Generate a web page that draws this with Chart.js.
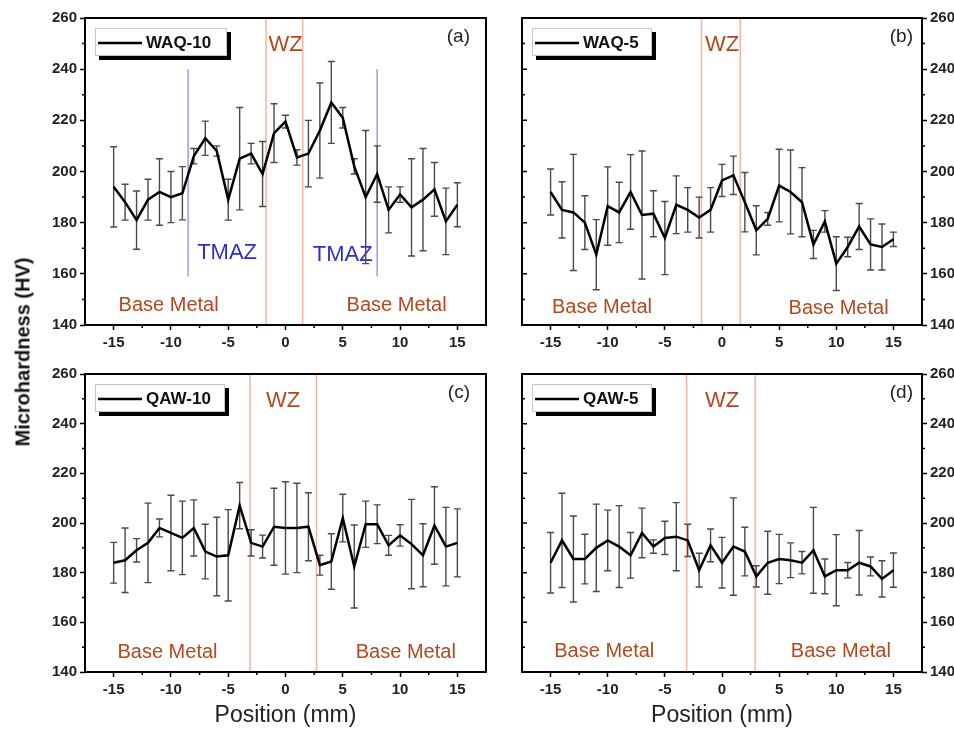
<!DOCTYPE html>
<html>
<head>
<meta charset="utf-8">
<script src="https://cdn.jsdelivr.net/npm/chart.js@4.4.1/dist/chart.umd.min.js"></script>
<style>
body{margin:0;background:#fff;width:954px;height:729px;overflow:hidden;position:relative;font-family:'Liberation Sans',Arial,sans-serif}
canvas{position:absolute}
#ytitle{position:absolute;left:23px;top:352px;transform:translate(-50%,-50%) rotate(-90deg);font-weight:bold;font-size:20px;white-space:nowrap;color:#111}
</style>
</head>
<body>
<canvas id="pa" width="500" height="362" style="left:0;top:0"></canvas>
<canvas id="pb" width="454" height="362" style="left:500px;top:0"></canvas>
<canvas id="pc" width="500" height="367" style="left:0;top:362px"></canvas>
<canvas id="pd" width="454" height="367" style="left:500px;top:362px"></canvas>
<div id="ytitle">Microhardness (HV)</div>
<script>
// positions (mm) shared by all four profiles
const positions = [-15,-14,-13,-12,-11,-10,-9,-8,-7,-6,-5,-4,-3,-2,-1,0,1,2,3,4,5,6,7,8,9,10,11,12,13,14,15];
const xTicks = [-15,-10,-5,0,5,10,15];
const yTicks = [140,160,180,200,220,240,260];

// hardness (HV) and error (+/-)
const waq10    = [194,188,181,189,192,190,191.5,206,213,208,189,205,207,199,215,219.5,205.5,207,216,227,221,202,190,199,185,191,186,189,193,180.5,187];
const waq10Err = [15.7,7,11.4,8,13,10,10.4,3,6.7,2,8,20,4,12.7,11.5,2.5,3,13,18.6,16,4,3,26,11,9,3,19,20,10.5,13,8.6];
const waq5     = [192,185,184,180,167.5,186.5,184,192,183,183.5,174,187,185,182,185,196.5,198.5,188,177,181.5,194.5,192,188,171.5,180.5,164,170.5,178.5,171.5,170.5,173.5];
const waq5Err  = [9,11,22.7,10.5,13.7,15.3,11.8,14.6,25,9,14.3,11.3,8.7,8,8.7,6.3,7.5,11.6,9.6,2.5,14.2,16.4,13.5,5.5,4.2,10.5,3.8,9,10,9,2.8];
const qaw10    = [184,185,189,192,198,196,194,198,188.5,186.5,187,207,192,190.5,198.5,198,198,198.5,183,184.5,202,182.5,199.5,199.5,191,195,191.5,187,199,190.5,192];
const qaw10Err = [8.2,13,4.7,16,3.6,15.2,14.8,11.3,11,15.8,18.4,9.3,5.3,4.6,15.5,18.6,18,13.7,4,11.2,9.6,16.7,9.3,7.8,4,4.3,18,12.7,15.6,15.8,13.7];
const qaw5     = [184,193,185.5,185.5,190,193,190.5,187,196,190.5,194,194.5,193,181,191,184,190.5,188.5,178.5,184,185.5,185,184,189,178.5,181,181,184,182.5,177.5,181];
const qaw5Err  = [12.2,19,17.3,10,17.6,12.2,16.5,9.2,10,2.7,6.7,13.7,6.5,6.8,6.6,10.2,19.6,9.8,4.3,12.7,9.9,7,4.5,17.3,7,14.3,3.1,13,3.8,7.3,6.9];

const WZ_LINE = '#f5b3a0', ZONE_TEXT = '#b3471f', TMAZ_LINE = '#9b9bec', TMAZ_TEXT = '#2f2fc8';
const tickFont = {family:"'Liberation Sans', Arial, sans-serif", size:15, weight:'bold'};

const panels = [
  {id:'pa', label:'WAQ-10', tag:'(a)', mean:waq10, err:waq10Err, side:'left',
   pad:{top:18,right:14,left:0,bottom:0}, xh:37, yw:85, wz:[-1.7,1.5], tmaz:[-8.5,8], tmazRange:[240,159],
   legendW:132, tagRight:16, title:false,
   notes:[['WZ',0,249.5,ZONE_TEXT,22],['TMAZ',-5.1,168,TMAZ_TEXT,22],['TMAZ',5.0,167.3,TMAZ_TEXT,22],
          ['Base Metal',-10.2,147.8,ZONE_TEXT,20],['Base Metal',9.7,147.8,ZONE_TEXT,20]]},
  {id:'pb', label:'WAQ-5', tag:'(b)', mean:waq5, err:waq5Err, side:'right',
   pad:{top:18,right:0,left:22,bottom:0}, xh:37, yw:32, wz:[-1.8,1.6],
   legendW:120, tagRight:9, title:false,
   notes:[['WZ',0,249.5,ZONE_TEXT,22],['Base Metal',-10.5,147,ZONE_TEXT,20],['Base Metal',10.2,146.5,ZONE_TEXT,20]]},
  {id:'pc', label:'QAW-10', tag:'(c)', mean:qaw10, err:qaw10Err, side:'left',
   pad:{top:3,right:14,left:0,bottom:0}, xh:57, yw:85, wz:[-3.1,2.7],
   legendW:130, tagRight:16, title:true,
   notes:[['WZ',-0.2,249,ZONE_TEXT,22],['Base Metal',-10.3,147.8,ZONE_TEXT,20],['Base Metal',10.5,147.8,ZONE_TEXT,20]]},
  {id:'pd', label:'QAW-5', tag:'(d)', mean:qaw5, err:qaw5Err, side:'right',
   pad:{top:3,right:0,left:22,bottom:0}, xh:57, yw:32, wz:[-3.1,2.9],
   legendW:120, tagRight:9, title:true,
   notes:[['WZ',0,249,ZONE_TEXT,22],['Base Metal',-10.3,148.3,ZONE_TEXT,20],['Base Metal',10.4,148.3,ZONE_TEXT,20]]}
];

function deco(p){
  return {
    id:'deco',
    beforeDatasetsDraw(chart){
      const {ctx, chartArea:a, scales:{x,y}} = chart;
      ctx.save();
      ctx.lineWidth = 1.5;
      ctx.strokeStyle = WZ_LINE;
      p.wz.forEach(v=>{
        const px = x.getPixelForValue(v);
        ctx.beginPath(); ctx.moveTo(px,a.top); ctx.lineTo(px,a.bottom); ctx.stroke();
      });
      if(p.tmaz){
        ctx.strokeStyle = TMAZ_LINE;
        p.tmaz.forEach(v=>{
          const px = x.getPixelForValue(v);
          ctx.beginPath(); ctx.moveTo(px,y.getPixelForValue(p.tmazRange[0])); ctx.lineTo(px,y.getPixelForValue(p.tmazRange[1])); ctx.stroke();
        });
      }
      // zone labels
      ctx.textAlign = 'center'; ctx.textBaseline = 'middle';
      p.notes.forEach(([t,vx,vy,col,sz])=>{
        ctx.fillStyle = col;
        ctx.font = sz+"px 'Liberation Sans', Arial, sans-serif";
        ctx.fillText(t, x.getPixelForValue(vx), y.getPixelForValue(vy));
      });
      // error bars
      ctx.strokeStyle = '#4a4a4a'; ctx.lineWidth = 1.4;
      positions.forEach((pos,i)=>{
        const px = x.getPixelForValue(pos);
        const hi = y.getPixelForValue(p.mean[i]+p.err[i]), lo = y.getPixelForValue(p.mean[i]-p.err[i]);
        ctx.beginPath();
        ctx.moveTo(px,hi); ctx.lineTo(px,lo);
        ctx.moveTo(px-3.5,hi); ctx.lineTo(px+3.5,hi);
        ctx.moveTo(px-3.5,lo); ctx.lineTo(px+3.5,lo);
        ctx.stroke();
      });
      ctx.restore();
    },
    afterDraw(chart){
      const {ctx, chartArea:a, scales:{x,y}} = chart;
      ctx.save();
      // frame
      ctx.strokeStyle = '#000'; ctx.lineWidth = 2;
      ctx.strokeRect(a.left, a.top, a.right-a.left, a.bottom-a.top);
      // minor ticks
      ctx.lineWidth = 1.5; ctx.beginPath();
      [-12.5,-7.5,-2.5,2.5,7.5,12.5].forEach(v=>{
        const px = x.getPixelForValue(v);
        ctx.moveTo(px,a.bottom); ctx.lineTo(px,a.bottom+3);
      });
      for(let v=150; v<260; v+=20){
        const py = y.getPixelForValue(v);
        if(p.side==='left'){ ctx.moveTo(a.left,py); ctx.lineTo(a.left-3,py); }
        else { ctx.moveTo(a.right,py); ctx.lineTo(a.right+3,py); }
      }
      if(p.side==='right'){
        for(let v=150; v<260; v+=10){
          const py = y.getPixelForValue(v);
          ctx.moveTo(a.left,py); ctx.lineTo(a.left+(v%20===0?5:3),py);
        }
      }
      ctx.stroke();
      // legend with shadow
      const lx = a.left+10, ly = a.top+10, lw = p.legendW, lh = 28;
      ctx.fillStyle = '#000';
      ctx.fillRect(lx+4, ly+4, lw, lh);
      ctx.fillStyle = '#fff';
      ctx.fillRect(lx, ly, lw, lh);
      ctx.strokeStyle = '#c8c8c8'; ctx.lineWidth = 1;
      ctx.strokeRect(lx+0.5, ly+0.5, lw-1, lh-1);
      ctx.strokeStyle = '#000'; ctx.lineWidth = 2.5;
      ctx.beginPath(); ctx.moveTo(lx+3, ly+15); ctx.lineTo(lx+47, ly+15); ctx.stroke();
      ctx.fillStyle = '#111'; ctx.textAlign = 'left'; ctx.textBaseline = 'middle';
      ctx.font = "bold 17px 'Liberation Sans', Arial, sans-serif";
      ctx.fillText(p.label, lx+51, ly+15);
      // panel tag
      ctx.textAlign = 'right';
      ctx.font = "19px 'Liberation Sans', Arial, sans-serif";
      ctx.fillStyle = '#222';
      ctx.fillText(p.tag, a.right-p.tagRight, a.top+19);
      ctx.restore();
    }
  };
}

panels.forEach(p=>{
  new Chart(document.getElementById(p.id), {
    type:'line',
    data:{datasets:[{
      data: positions.map((v,i)=>({x:v, y:p.mean[i]})),
      borderColor:'#000', borderWidth:2.5, pointRadius:0, tension:0, fill:false
    }]},
    options:{
      responsive:false, animation:false, devicePixelRatio:1,
      layout:{padding:p.pad},
      plugins:{legend:{display:false}, tooltip:{enabled:false}},
      scales:{
        x:{
          type:'linear', min:-17.5, max:17.5,
          afterBuildTicks: s=>{ s.ticks = xTicks.map(v=>({value:v})); },
          afterFit: s=>{ s.height = p.xh; },
          grid:{drawOnChartArea:false, tickLength:5, tickColor:'#000', tickWidth:1.5},
          border:{display:false},
          ticks:{font:tickFont, color:'#222', padding:4, maxRotation:0, callback:v=>String(v)},
          title:{display:p.title, text:'Position (mm)', color:'#222', padding:{top:0,bottom:0},
                 font:{family:"'Liberation Sans', Arial, sans-serif", size:23}}
        },
        y:{
          position:p.side, min:140, max:260,
          afterBuildTicks: s=>{ s.ticks = yTicks.map(v=>({value:v})); },
          afterFit: s=>{ s.width = p.yw; },
          grid:{drawOnChartArea:false, tickLength:5, tickColor:'#000', tickWidth:1.5},
          border:{display:false},
          ticks:{font:tickFont, color:'#222', padding:3, callback:v=>String(v)}
        }
      }
    },
    plugins:[deco(p)]
  });
});
</script>
</body>
</html>
